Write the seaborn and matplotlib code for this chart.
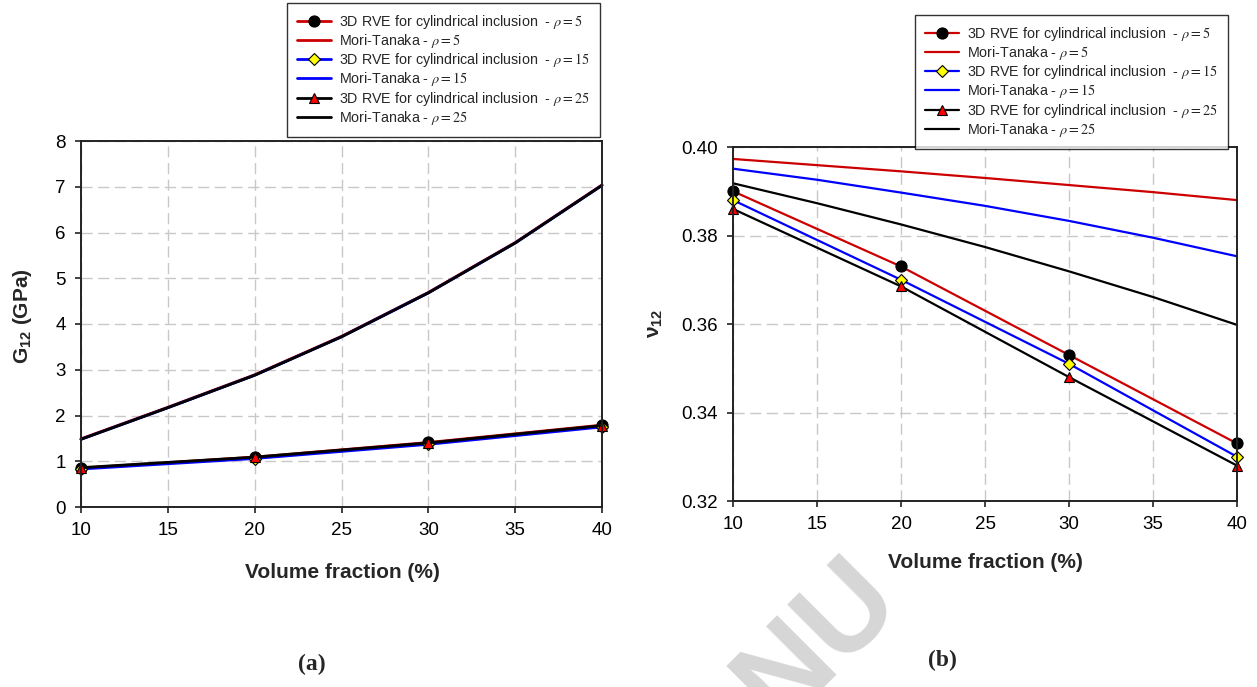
import numpy as np
import pandas as pd
import matplotlib
matplotlib.use("Agg")
import matplotlib.pyplot as plt
import seaborn as sns

# ---------------- data ----------------
vf = [10, 20, 30, 40]
vf_mt = [10, 15, 20, 25, 30, 35, 40]

g12_rve_5 = [0.85, 1.09, 1.41, 1.79]
g12_rve_15 = [0.83, 1.06, 1.37, 1.75]
g12_rve_25 = [0.86, 1.09, 1.40, 1.78]
g12_mt_5 = [1.49, 2.18, 2.89, 3.73, 4.69, 5.78, 7.04]
g12_mt_15 = [1.48, 2.17, 2.88, 3.72, 4.68, 5.77, 7.03]
g12_mt_25 = [1.48, 2.17, 2.88, 3.72, 4.68, 5.77, 7.03]

nu12_rve_5 = [0.390, 0.373, 0.353, 0.333]
nu12_rve_15 = [0.388, 0.370, 0.351, 0.330]
nu12_rve_25 = [0.386, 0.3685, 0.348, 0.328]
nu12_mt_5 = [0.3973, 0.3959, 0.3945, 0.3930, 0.3914, 0.3898, 0.3880]
nu12_mt_15 = [0.3951, 0.3926, 0.3897, 0.3867, 0.3833, 0.3795, 0.3753]
nu12_mt_25 = [0.3918, 0.3873, 0.3825, 0.3774, 0.3719, 0.3661, 0.3598]

rhos = [5, 15, 25]
x_ticks = [10, 15, 20, 25, 30, 35, 40]
g12_y_ticks = [0, 1, 2, 3, 4, 5, 6, 7, 8]
nu12_y_ticks = [0.32, 0.34, 0.36, 0.38, 0.40]

# ---------------- style ----------------
sns.set_style("white")
plt.rcParams["font.family"] = ["Liberation Sans", "DejaVu Sans"]
plt.rcParams["mathtext.fontset"] = "custom"
plt.rcParams["mathtext.rm"] = "Liberation Sans:bold"
plt.rcParams["mathtext.it"] = "Liberation Sans:bold"
plt.rcParams["mathtext.bf"] = "Liberation Sans:bold"
plt.rcParams["mathtext.default"] = "rm"

RED = "#cc0000"
BLUE = "#0000ff"
BLACK = "#000000"
line_cols = [RED, BLUE, BLACK]
markers = ["o", "D", "^"]
mfc = ["black", "#ffff00", "#ff0000"]
msz = [8, 6.5, 7.5]

fig = plt.figure(figsize=(12.57, 6.87), dpi=100)
W, H = 1257, 687

def add_ax(x0, x1, ytop, ybot):
    return fig.add_axes([x0 / W, 1 - ybot / H, (x1 - x0) / W, (ybot - ytop) / H])

ax1 = add_ax(81, 602, 141, 507)
ax2 = add_ax(733, 1237, 147, 501)

def draw(ax, rve, mt, lw):
    for i, rho in enumerate(rhos):
        d_rve = pd.DataFrame({"x": vf, "y": rve[i]})
        sns.lineplot(data=d_rve, x="x", y="y", ax=ax, color=line_cols[i], lw=lw,
                     marker=markers[i], markersize=msz[i], markerfacecolor=mfc[i],
                     markeredgecolor="black", markeredgewidth=0.8,
                     label=r"3D RVE for cylindrical inclusion  - $\mathit{\rho} = %d$" % rho)
        d_mt = pd.DataFrame({"x": vf_mt, "y": mt[i]})
        sns.lineplot(data=d_mt, x="x", y="y", ax=ax, color=line_cols[i], lw=lw,
                     label=r"Mori-Tanaka - $\mathit{\rho} = %d$" % rho)

draw(ax1, [g12_rve_5, g12_rve_15, g12_rve_25], [g12_mt_5, g12_mt_15, g12_mt_25], 2.0)
draw(ax2, [nu12_rve_5, nu12_rve_15, nu12_rve_25], [nu12_mt_5, nu12_mt_15, nu12_mt_25], 1.6)

def style_ax(ax, yticks, ylim, yfmt):
    ax.set_xlim(10, 40)
    ax.set_ylim(*ylim)
    ax.set_xticks(x_ticks)
    ax.set_yticks(yticks)
    ax.set_yticklabels([yfmt.format(v) for v in yticks])
    ax.grid(True, color="#c8c8c8", linestyle=(0, (8, 4)), linewidth=1.0)
    ax.set_axisbelow(True)
    for s in ax.spines.values():
        s.set_visible(True)
        s.set_color("#222222")
        s.set_linewidth(1.4)
    ax.tick_params(axis="both", direction="out", length=4, width=1.2,
                   labelsize=13.5, colors="#222222", labelcolor="black",
                   bottom=True, left=True, pad=7)
    ax.set_xlabel("")
    ax.set_ylabel("")
    leg = ax.get_legend()
    if leg is not None:
        leg.remove()
    for line in ax.lines:
        line.set_clip_on(False)

style_ax(ax1, g12_y_ticks, (0, 8), "{:g}")
style_ax(ax2, nu12_y_ticks, (0.32, 0.40), "{:.2f}")

# axis labels
fig.text(342 / W, 1 - 572 / H, "Volume fraction (%)", ha="center", va="center",
         fontsize=15, fontweight="bold")
fig.text(985 / W, 1 - 563 / H, "Volume fraction (%)", ha="center", va="center",
         fontsize=15, fontweight="bold")
fig.text(23 / W, 1 - 316 / H, r"G$_{12}$ (GPa)", ha="center", va="center", rotation=90,
         fontsize=15, fontweight="bold")
fig.text(655 / W, 1 - 323 / H, r"ν$_{12}$", ha="center", va="center", rotation=90,
         fontsize=15, fontweight="bold")

# panel labels
fig.text(312 / W, 1 - 664 / H, "(a)", ha="center", va="center", fontsize=17,
         fontweight="bold", family="Liberation Serif")
fig.text(942 / W, 1 - 660 / H, "(b)", ha="center", va="center", fontsize=17,
         fontweight="bold", family="Liberation Serif")

# legends
def add_legend(ax, x0, y0):
    h, l = ax.get_legend_handles_labels()
    leg = fig.legend(h, l, loc="upper left", bbox_to_anchor=(x0 / W, 1 - y0 / H),
                     frameon=True, fancybox=False, shadow=False, fontsize=10.3,
                     handlelength=2.4, labelspacing=0.08, borderpad=0.7,
                     handletextpad=0.55, borderaxespad=0)
    leg.get_frame().set_edgecolor("black")
    leg.get_frame().set_linewidth(1.0)
    for t in leg.get_texts():
        t.set_math_fontfamily("stix")
    return leg

add_legend(ax1, 287, 3)
add_legend(ax2, 915, 15)

# faint watermark fragment
fig.text(818 / W, 1 - 640 / H, "NU", rotation=45, ha="center", va="center",
         fontsize=88, fontweight="bold", color="#d6d6d6", zorder=-10)

fig.savefig("out.png", dpi=100, facecolor="white")
